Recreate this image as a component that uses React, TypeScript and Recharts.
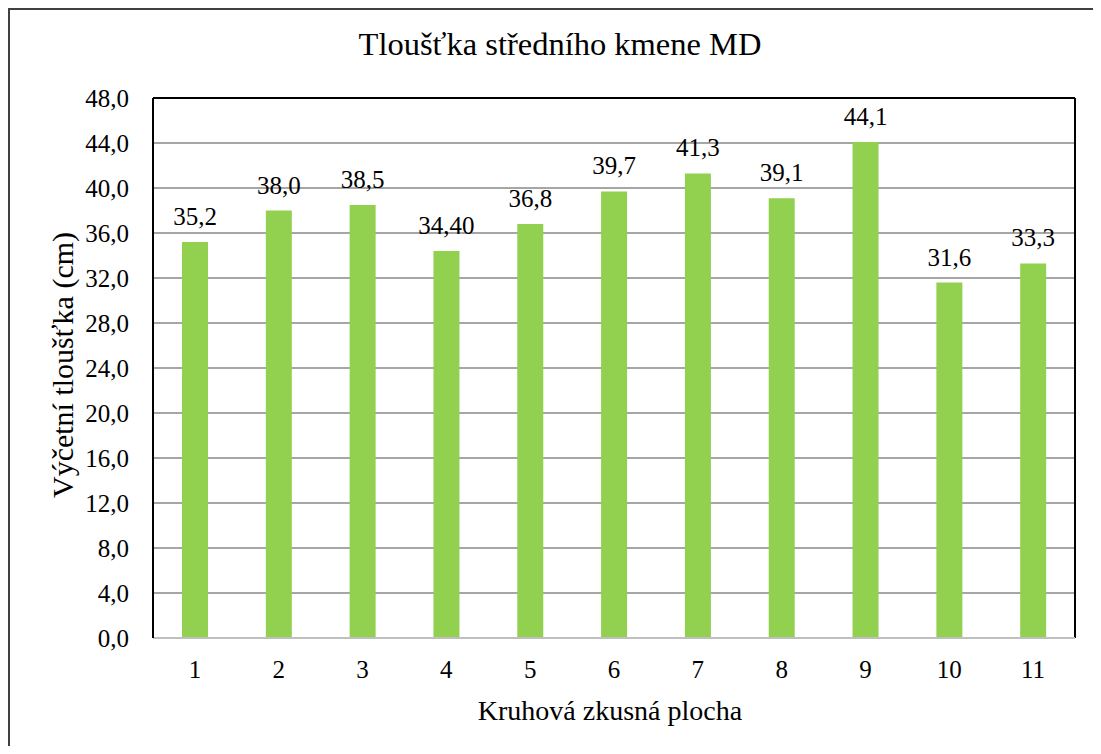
import React from 'react';
import { BarChart, Bar, XAxis, YAxis, CartesianGrid, LabelList, Label } from 'recharts';

const categories = ['1', '2', '3', '4', '5', '6', '7', '8', '9', '10', '11'];
const values = [35.2, 38.0, 38.5, 34.4, 36.8, 39.7, 41.3, 39.1, 44.1, 31.6, 33.3];
const valueLabels = ['35,2', '38,0', '38,5', '34,40', '36,8', '39,7', '41,3', '39,1', '44,1', '31,6', '33,3'];
const yTicks = [0, 4, 8, 12, 16, 20, 24, 28, 32, 36, 40, 44, 48];

const title = 'Tloušťka středního kmene MD';
const xTitle = 'Kruhová zkusná plocha';
const yTitle = 'Výčetní tloušťka (cm)';

const data = categories.map((c, i) => ({ cat: c, value: values[i], label: valueLabels[i] }));

const FONT = "'Times New Roman', Times, 'Liberation Serif', Tinos, 'Noto Serif', 'DejaVu Serif', FreeSerif, serif";
const fmt = (v: number) => v.toFixed(1).replace('.', ',');

export default function App() {
  return (
    <div
      style={{
        borderLeft: '2px solid #404040',
        borderTop: '2px solid #404040',
        width: 1091,
        height: 736,
        background: '#fff',
        fontFamily: FONT,
      }}
    >
      <BarChart width={1091} height={736} data={data} margin={{ top: 88, right: 26, bottom: 0, left: 0 }}>
        <CartesianGrid vertical={false} stroke="#898989" strokeWidth={1.5} />
        <CartesianGrid
          stroke="#000"
          strokeWidth={2}
          horizontalCoordinatesGenerator={({ offset }: any) => [offset.top]}
          verticalCoordinatesGenerator={({ offset }: any) => [offset.left + offset.width]}
        />
        <XAxis
          dataKey="cat"
          height={108}
          interval={0}
          tickLine={false}
          tickSize={0}
          tickMargin={22}
          axisLine={{ stroke: '#BFBFBF', strokeWidth: 2 }}
          tick={{ fontSize: 25, fill: '#000', style: { fontFamily: FONT } }}
        >
          <Label
            content={(props: any) => {
              const vb = props.viewBox || {};
              return (
                <text x={vb.x + vb.width / 2 - 4} y={710} textAnchor="middle" fill="#000" style={{ fontFamily: FONT, fontSize: 28 }}>
                  {xTitle}
                </text>
              );
            }}
          />
          <Label
            content={() => (
              <text x={550} y={45} textAnchor="middle" fill="#000" style={{ fontFamily: FONT, fontSize: 32.5 }}>
                {title}
              </text>
            )}
          />
        </XAxis>
        <YAxis
          width={143}
          domain={[0, 48]}
          ticks={yTicks}
          interval={0}
          tickLine={false}
          tickSize={0}
          tickMargin={24}
          tickFormatter={fmt}
          axisLine={{ stroke: '#000', strokeWidth: 2 }}
          tick={{ fontSize: 25, fill: '#000', style: { fontFamily: FONT } }}
        >
          <Label
            content={(props: any) => {
              const vb = props.viewBox || {};
              const cx = 63;
              const cy = vb.y + vb.height / 2 - 3;
              return (
                <text
                  x={cx}
                  y={cy}
                  transform={`rotate(-90 ${cx} ${cy})`}
                  textAnchor="middle"
                  fill="#000"
                  style={{ fontFamily: FONT, fontSize: 30 }}
                >
                  {yTitle}
                </text>
              );
            }}
          />
        </YAxis>
        <Bar dataKey="value" fill="#92D050" barSize={26} isAnimationActive={false}>
          <LabelList
            dataKey="label"
            position="top"
            offset={17}
            fill="#000"
            fontSize={25}
            style={{ fontFamily: FONT }}
          />
        </Bar>
      </BarChart>
    </div>
  );
}
